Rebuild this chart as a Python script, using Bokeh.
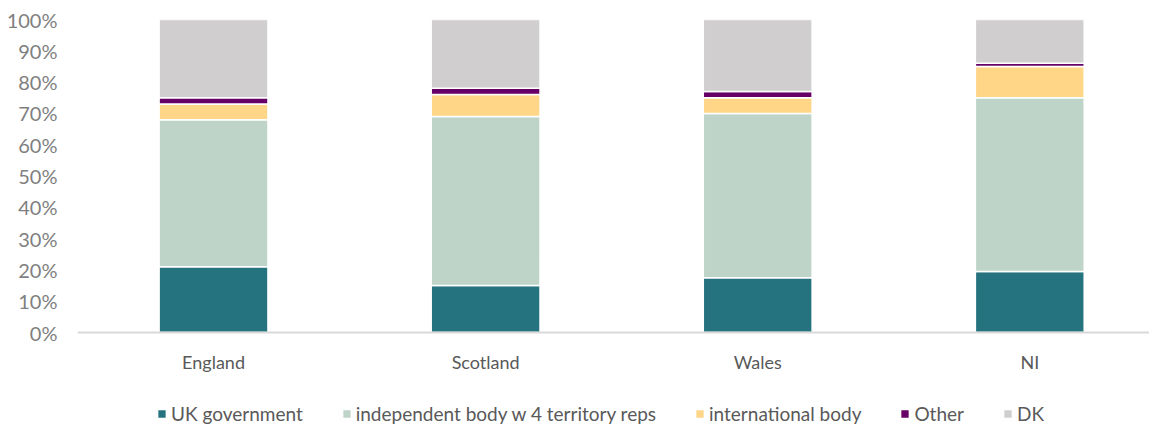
from bokeh.plotting import figure
from bokeh.models import (ColumnDataSource, Range1d, FixedTicker, NumeralTickFormatter,
                          Legend, LegendItem)
from bokeh.embed import file_html
from bokeh.resources import INLINE

regions = ["England", "Scotland", "Wales", "NI"]
uk_government = [0.21, 0.15, 0.175, 0.195]
independent_body = [0.47, 0.54, 0.525, 0.555]
international_body = [0.05, 0.07, 0.05, 0.10]
other = [0.02, 0.02, 0.02, 0.01]
dk = [0.25, 0.22, 0.23, 0.14]

series_names = ["UK government", "independent body w 4 territory reps",
                "international body", "Other", "DK"]
series_keys = ["uk", "ind", "intl", "oth", "dk"]
colors = ["#267380", "#bed4c8", "#ffd588", "#660066", "#d0cecf"]

source = ColumnDataSource(dict(
    x=list(range(len(regions))),
    uk=uk_government, ind=independent_body, intl=international_body,
    oth=other, dk=dk,
))

FONT = "Lato"
PLOT_PX = 313      # pixel height of the 0-100% span
FRAME_PX = 406     # frame extends below 0 to hold the legend

p = figure(frame_width=1072, frame_height=FRAME_PX, output_backend="svg", toolbar_location=None,
           x_range=Range1d(-0.5, 3.44),
           y_range=Range1d(-(FRAME_PX - PLOT_PX) / PLOT_PX, 1),
           min_border_left=77, min_border_right=0, min_border_top=19,
           min_border_bottom=0)
p.outline_line_color = None
p.xgrid.grid_line_color = None
p.ygrid.grid_line_color = None

renderers = p.vbar_stack(series_keys, x="x", width=0.4, color=colors,
                         line_color="white", line_width=1.5, source=source)

p.yaxis.ticker = FixedTicker(ticks=[i / 10 for i in range(11)])
p.yaxis.formatter = NumeralTickFormatter(format="0%")
p.yaxis.axis_line_color = None
p.yaxis.major_tick_line_color = None
p.yaxis.minor_tick_line_color = None
p.yaxis.major_label_text_font = FONT
p.yaxis.major_label_text_font_size = "20px"
p.yaxis.major_label_text_color = "#7f7f7f"
p.yaxis.major_label_standoff = 14

p.xaxis.fixed_location = 0
p.xaxis.ticker = FixedTicker(ticks=list(range(len(regions))))
p.xaxis.major_label_overrides = {i: r for i, r in enumerate(regions)}
p.xaxis.axis_line_color = "#d9d9d9"
p.xaxis.axis_line_width = 2
p.xaxis.major_tick_line_color = None
p.xaxis.minor_tick_line_color = None
p.xaxis.major_label_text_font = FONT
p.xaxis.major_label_text_font_size = "18px"
p.xaxis.major_label_text_color = "#595959"
p.xaxis.major_label_standoff = 12

legend = Legend(items=[LegendItem(label=n, renderers=[r]) for n, r in zip(series_names, renderers)],
                orientation="horizontal", location=(79, 0),
                label_text_font=FONT, label_text_font_size="19px",
                label_text_color="#595959", glyph_width=11, glyph_height=11,
                label_standoff=4, spacing=38, border_line_color=None,
                background_fill_alpha=0, padding=2, margin=0)
p.add_layout(legend, "center")

open("out.html", "w").write(file_html(p, INLINE))
